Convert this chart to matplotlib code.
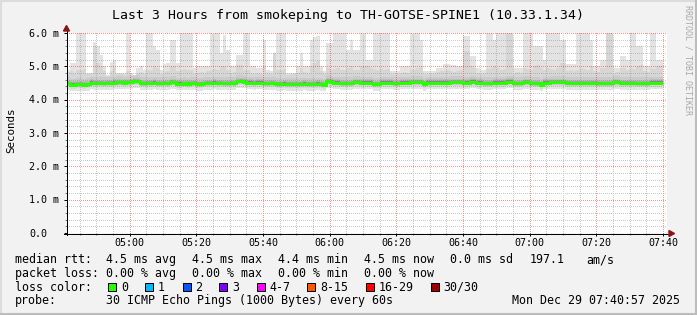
import numpy as np
import matplotlib
matplotlib.use('Agg')
import matplotlib.pyplot as plt
from matplotlib.lines import Line2D
from matplotlib.patches import Polygon, Rectangle
from matplotlib.ticker import FixedLocator
from matplotlib.transforms import blended_transform_factory, offset_copy

# ---------------- data ----------------
title = "Last 3 Hours from smokeping to TH-GOTSE-SPINE1 (10.33.1.34)"
start_minute = 280          # minute of day of first 60 s sample (04:40)
view_start = 281.2          # left edge of the 3 hour window (minutes)
view_end = 461.2            # right edge (07:41)

time_ticks = [300, 320, 340, 360, 380, 400, 420, 440, 460]
time_labels = ["05:00", "05:20", "05:40", "06:00", "06:20", "06:40", "07:00", "07:20", "07:40"]
y_ticks = [0, 1, 2, 3, 4, 5, 6]
y_labels = ["0.0", "1.0 m", "2.0 m", "3.0 m", "4.0 m", "5.0 m", "6.0 m"]

# median rtt per step (ms)
median = [
    4.49, 4.49, 4.45, 4.45, 4.47, 4.47, 4.45, 4.46, 4.51, 4.50,
    4.50, 4.50, 4.49, 4.50, 4.50, 4.51, 4.52, 4.52, 4.51, 4.52,
    4.53, 4.56, 4.55, 4.49, 4.49, 4.50, 4.50, 4.51, 4.49, 4.49,
    4.50, 4.49, 4.53, 4.52, 4.48, 4.48, 4.49, 4.48, 4.49, 4.50,
    4.47, 4.47, 4.49, 4.50, 4.50, 4.51, 4.50, 4.50, 4.49, 4.49,
    4.50, 4.49, 4.55, 4.56, 4.54, 4.51, 4.51, 4.50, 4.51, 4.51,
    4.49, 4.49, 4.50, 4.49, 4.47, 4.47, 4.48, 4.47, 4.47, 4.47,
    4.47, 4.47, 4.48, 4.47, 4.47, 4.47, 4.48, 4.47, 4.45, 4.56,
    4.54, 4.51, 4.51, 4.49, 4.49, 4.49, 4.49, 4.53, 4.53, 4.51,
    4.51, 4.51, 4.51, 4.47, 4.47, 4.51, 4.51, 4.51, 4.51, 4.49,
    4.49, 4.51, 4.51, 4.51, 4.53, 4.53, 4.53, 4.53, 4.47, 4.51,
    4.51, 4.51, 4.51, 4.51, 4.51, 4.51, 4.53, 4.53, 4.53, 4.53,
    4.51, 4.51, 4.54, 4.54, 4.51, 4.51, 4.49, 4.49, 4.49, 4.51,
    4.51, 4.51, 4.51, 4.54, 4.54, 4.49, 4.49, 4.49, 4.53, 4.53,
    4.49, 4.49, 4.49, 4.45, 4.51, 4.51, 4.53, 4.53, 4.53, 4.53,
    4.53, 4.50, 4.50, 4.50, 4.50, 4.50, 4.50, 4.50, 4.50, 4.50,
    4.49, 4.49, 4.49, 4.49, 4.49, 4.53, 4.53, 4.50, 4.50, 4.50,
    4.50, 4.50, 4.49, 4.49, 4.49, 4.49, 4.51, 4.51, 4.51, 4.51,
]

# highest ping per step (ms); values above the top are clipped by the axes
ping_max = [
    4.85, 4.90, 5.10, 5.10, 6.10, 6.10, 6.10, 4.80, 4.80, 5.73,
    5.60, 5.35, 5.00, 4.75, 5.13, 5.20, 4.80, 4.80, 4.80, 6.10,
    4.80, 4.75, 4.95, 5.00, 4.90, 6.10, 6.10, 5.60, 5.50, 4.90,
    5.08, 5.10, 5.78, 5.80, 5.10, 6.10, 6.10, 6.10, 6.10, 4.95,
    5.00, 5.00, 5.00, 5.00, 6.10, 6.10, 6.10, 5.40, 5.95, 5.50,
    5.00, 5.00, 5.35, 5.35, 6.10, 6.10, 5.00, 5.00, 4.95, 4.95,
    5.78, 4.90, 4.85, 5.40, 6.10, 6.10, 6.10, 4.80, 4.80, 4.80,
    5.00, 5.40, 5.00, 5.00, 5.78, 5.87, 5.90, 5.00, 4.85, 5.70,
    5.70, 6.10, 6.10, 6.10, 6.10, 5.50, 5.78, 5.50, 5.50, 6.10,
    6.10, 5.20, 5.20, 6.10, 6.10, 6.10, 6.10, 6.10, 4.85, 4.85,
    4.85, 5.00, 5.00, 5.00, 6.10, 6.10, 6.10, 5.78, 4.85, 4.85,
    4.85, 4.85, 4.95, 4.95, 5.08, 5.08, 5.05, 5.05, 5.00, 5.00,
    5.90, 5.90, 5.30, 5.30, 4.95, 4.90, 4.90, 6.10, 6.10, 5.78,
    6.10, 6.10, 6.10, 6.10, 6.10, 4.95, 4.95, 4.95, 6.10, 6.10,
    6.10, 5.60, 5.60, 5.60, 5.20, 6.10, 6.10, 6.10, 6.10, 5.78,
    5.78, 5.08, 5.08, 5.08, 6.10, 6.10, 6.10, 6.10, 5.78, 5.00,
    5.00, 5.20, 5.20, 6.10, 6.10, 4.95, 4.95, 5.30, 5.30, 5.20,
    6.10, 6.10, 5.60, 5.60, 5.00, 5.00, 6.10, 6.10, 5.20, 5.20,
]

# second highest ping per step (ms)
ping_2nd = [
    4.80, 4.82, 4.85, 4.80, 4.90, 4.88, 4.92, 4.78, 4.80, 5.60,
    5.10, 5.00, 4.85, 4.72, 4.85, 4.95, 4.76, 4.78, 4.75, 4.85,
    4.74, 4.72, 4.80, 4.82, 4.78, 4.90, 4.88, 5.00, 4.95, 4.78,
    4.82, 4.85, 5.00, 5.00, 4.85, 4.90, 4.92, 4.88, 4.90, 4.78,
    4.80, 4.82, 4.80, 4.85, 4.90, 4.92, 4.88, 5.00, 5.00, 4.90,
    4.80, 4.82, 5.05, 5.05, 4.90, 4.88, 4.80, 4.78, 4.80, 4.78,
    5.00, 4.80, 4.78, 5.40, 4.90, 4.88, 4.92, 4.75, 4.76, 4.78,
    4.80, 4.95, 4.82, 4.80, 5.00, 5.10, 5.17, 4.85, 4.78, 4.95,
    4.90, 4.92, 4.95, 4.90, 4.88, 4.95, 5.00, 4.90, 4.88, 5.00,
    5.00, 5.00, 4.95, 4.92, 4.90, 4.95, 4.90, 4.92, 4.78, 4.76,
    4.78, 4.80, 4.82, 4.80, 4.92, 4.90, 4.95, 5.00, 4.78, 4.76,
    4.78, 4.80, 4.82, 4.85, 4.85, 4.88, 4.85, 4.82, 4.85, 4.90,
    5.45, 5.45, 5.00, 4.95, 4.80, 4.78, 4.80, 4.92, 4.95, 5.00,
    4.95, 4.90, 4.92, 6.10, 6.10, 4.80, 4.82, 4.80, 4.95, 4.92,
    4.90, 5.00, 5.05, 4.95, 4.90, 4.95, 4.92, 4.90, 4.95, 5.10,
    5.10, 4.85, 4.88, 4.85, 4.90, 4.95, 4.92, 4.90, 5.00, 4.85,
    4.82, 4.95, 4.95, 6.10, 6.10, 4.80, 4.82, 4.95, 4.95, 4.90,
    4.95, 4.92, 5.00, 5.05, 4.85, 4.82, 4.95, 4.92, 5.00, 5.00,
]

# typical spread of the remaining 28 sorted pings around the median (ms)
core_spread = [-0.20, -0.12, -0.08, -0.065, -0.055, -0.05, -0.045, -0.04,
               -0.035, -0.03, -0.02, -0.015, -0.01, -0.005, 0.0, 0.0,
               0.005, 0.01, 0.015, 0.02, 0.025, 0.03, 0.04, 0.045,
               0.055, 0.07, 0.10, 0.18]

legend_rows = [
    ("median rtt:", ["4.5 ms avg", "4.5 ms max", "4.4 ms min", "4.5 ms now",
                     "0.0 ms sd", "197.1", "am/s"]),
    ("packet loss:", ["0.00 % avg", "0.00 % max", "0.00 % min", "0.00 % now"]),
]
loss_labels = ["0", "1", "2", "3", "4-7", "8-15", "16-29", "30/30"]
loss_colors = ["#26ff00", "#00b8ff", "#0059ff", "#7e00ff", "#ff00ff",
               "#ff5500", "#ff0000", "#a00000"]
probe_text = "30 ICMP Echo Pings (1000 Bytes) every 60s"
stamp_text = "Mon Dec 29 07:40:57 2025"

# ---------------- figure ----------------
W, H = 697, 315
MONO = "DejaVu Sans Mono"
fig = plt.figure(figsize=(W / 100, H / 100), dpi=100)
fig.patch.set_facecolor("#f2f2f2")


def fx(x):
    return x / W


def fy(y):
    return 1 - y / H


def ftext(x, y, s, **kw):
    kw.setdefault("family", MONO)
    kw.setdefault("va", "baseline")
    kw.setdefault("ha", "left")
    return fig.text(fx(x), fy(y), s, **kw)


# frame shading
fig.add_artist(Line2D([fx(0), fx(W)], [fy(1), fy(1)], color="#dcdcdc", lw=1.5,
                      transform=fig.transFigure))
fig.add_artist(Line2D([fx(1), fx(1)], [fy(0), fy(H)], color="#dcdcdc", lw=1.5,
                      transform=fig.transFigure))
fig.add_artist(Line2D([fx(W - 1.5), fx(W - 1.5)], [fy(0), fy(H)], color="#bcbcbc",
                      lw=2.2, transform=fig.transFigure))
fig.add_artist(Line2D([fx(0), fx(W)], [fy(H - 1.5), fy(H - 1.5)], color="#bcbcbc",
                      lw=2.2, transform=fig.transFigure))

top_px, bot_px, left_px, right_px = 33, 233, 67, 667
AW, AH = right_px - left_px, bot_px - top_px
ax = fig.add_axes([fx(left_px), fy(bot_px), AW / W, AH / H])
ax.set_facecolor("white")
px_per_ms = 33.333
ylim = (0, AH / px_per_ms)
ax.set_xlim(view_start, view_end)
ax.set_ylim(*ylim)
for s in ax.spines.values():
    s.set_visible(False)

# smoke
med = np.array(median)
n = len(med)
edges = start_minute + np.arange(n + 1)
core = med[None, :] + np.array(core_spread)[:, None]
p2 = np.minimum(np.array(ping_2nd), np.array(ping_max))
pings = np.sort(np.vstack([core, p2[None, :], np.array(ping_max)[None, :]]), axis=0)
npings = pings.shape[0]
half = npings // 2
for i in range(half):
    lo = pings[i]
    hi = pings[npings - 1 - i]
    g = int(190 / half * (half - (i + 1))) + 50
    col = "#%02x%02x%02x" % (g, g, g)
    ax.fill_between(edges, np.append(lo, lo[-1]), np.append(hi, hi[-1]), step="post",
                    color=col, linewidth=0, antialiased=False, zorder=1)

# median line
ax.step(edges, np.append(med, med[-1]), where="post", color=loss_colors[0], lw=2.16,
        zorder=4, solid_capstyle="butt", solid_joinstyle="miter")

# dotted grid rendered pixel-exact as an overlay image
x_major = time_ticks
x_minor = [m for m in range(285, 461, 5) if m % 20 != 0]
y_major = [v for v in y_ticks if v > 0]
y_minor = [k / 5 for k in range(1, 31) if k % 5 != 0]
grid = np.zeros((AH, AW, 4))
minor_rgba = (0.5, 0.5, 0.5, 0.40)
major_rgba = (0.95, 0.05, 0.05, 0.45)


def col_of(t):
    return int(round((t - view_start) / (view_end - view_start) * AW))


def row_of(v):
    return int(round((ylim[1] - v) / (ylim[1] - ylim[0]) * AH))


for vals, rgba in ((y_minor, minor_rgba), (y_major, major_rgba)):
    for v in vals:
        r = min(max(row_of(v), 0), AH - 1)
        grid[r, 0::2] = rgba
for vals, rgba in ((x_minor, minor_rgba), (x_major, major_rgba)):
    for t in vals:
        c = min(col_of(t), AW - 1)
        if c >= 0:
            grid[0::2, c] = rgba
ax.imshow(grid, extent=(view_start, view_end, ylim[0], ylim[1]), aspect="auto",
          interpolation="none", zorder=2.5)
ax.set_xlim(view_start, view_end)
ax.set_ylim(*ylim)

# ticks
ax.xaxis.set_major_locator(FixedLocator(x_major))
ax.xaxis.set_minor_locator(FixedLocator(x_minor))
ax.yaxis.set_major_locator(FixedLocator(y_ticks))
ax.yaxis.set_minor_locator(FixedLocator(y_minor))
ax.tick_params(which="both", labelbottom=False, labelleft=False, direction="out",
               color="black", width=0.72)
ax.tick_params(which="major", length=2.2)
ax.tick_params(which="minor", length=1.4, color="#808080")

# axes lines and arrows
fig.add_artist(Line2D([fx(66.5), fx(66.5)], [fy(234.5), fy(30.5)], color="black",
                      lw=0.72, transform=fig.transFigure, zorder=5))
fig.add_artist(Line2D([fx(64), fx(669.5)], [fy(233.5), fy(233.5)], color="black",
                      lw=0.72, transform=fig.transFigure, zorder=5))
fig.add_artist(Polygon([[fx(63.5), fy(31)], [fx(69.5), fy(31)], [fx(66.5), fy(25.5)]],
                       closed=True, color="#8b1414", transform=fig.transFigure, zorder=6))
fig.add_artist(Polygon([[fx(669), fy(230.5)], [fx(669), fy(236.5)], [fx(674.5), fy(233.5)]],
                       closed=True, color="#8b1414", transform=fig.transFigure, zorder=6))

# tick labels
tx = blended_transform_factory(ax.transData, fig.transFigure)
for t, lab in zip(time_ticks, time_labels):
    ax.text(t, fy(246.2), lab, transform=tx, ha="center", va="baseline",
            family=MONO, size=7.2)
ty = offset_copy(blended_transform_factory(fig.transFigure, ax.transData), fig=fig,
                 y=-3.6, units="dots")
for v, lab in zip(y_ticks, y_labels):
    ax.text(fx(29.3), v, lab, transform=ty, ha="left", va="baseline",
            family=MONO, size=7.2)

# title, axis label, watermark
ftext(347.5, 18.6, title, ha="center", size=9.5)
ftext(11, 130, "Seconds", rotation=90, ha="center", va="center", size=7.8)
ftext(688, 60, "RRDTOOL / TOBI OETIKER", rotation=270, ha="center", va="center",
      size=6, color="#a8a8a8")

# legend
LS = 8.34
row_y = [263.3, 276.9, 290.6, 304.3]
value_x = [[106.2, 192.2, 277.9, 364.2, 450.2, 529.9, 585.9],
           [106.2, 192.5, 278.5, 364.2]]
for (head, vals), y, xs in zip(legend_rows, row_y, value_x):
    ftext(15.3, y, head, size=LS)
    for v, x in zip(vals, xs):
        ftext(x, y, v, size=LS)

ftext(15.3, row_y[2], "loss color:", size=LS)
box_x = [108.3, 145.3, 182.7, 219.3, 257.3, 307.3, 366.0, 430.7]
for bx, lab, col in zip(box_x, loss_labels, loss_colors):
    fig.add_artist(Rectangle((fx(bx), fy(291)), 8 / W, 8 / H, transform=fig.transFigure,
                             facecolor=col, edgecolor="black", lw=0.72))
    ftext(bx + 12.6, row_y[2], lab, size=LS)

ftext(15.3, row_y[3], "probe:", size=LS)
ftext(106.2, row_y[3], probe_text, size=LS)
ftext(680.5, row_y[3], stamp_text, ha="right", size=LS)

fig.savefig("out.png", dpi=100, facecolor=fig.get_facecolor())
